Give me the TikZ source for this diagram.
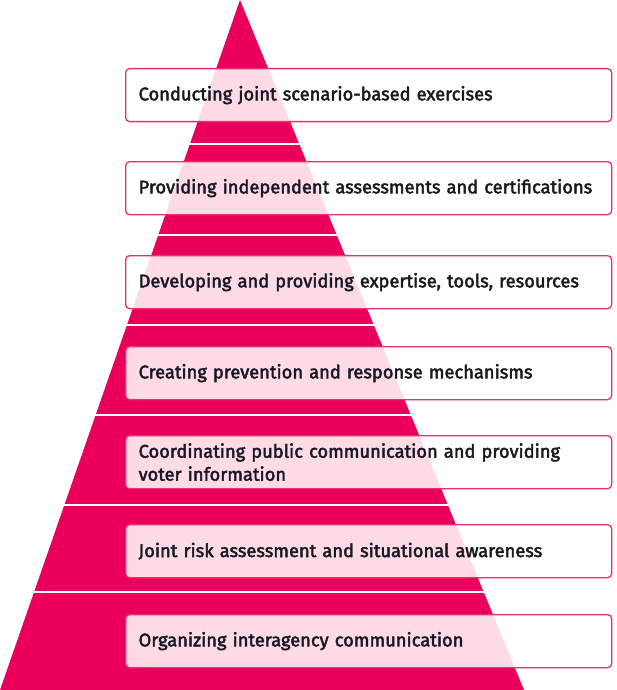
\documentclass[tikz,border=0pt]{standalone}
\usepackage{fontspec}
\setmainfont{Fira Sans}[FakeBold=2.4]
\definecolor{pyramid}{RGB}{234,0,90}
\definecolor{boxline}{RGB}{234,48,106}
\definecolor{ink}{RGB}{26,26,30}

\begin{document}
\begin{tikzpicture}[x=1pt,y=-1pt,
    level/.style={draw=boxline, line width=1.3pt, rounded corners=4pt,
      fill=white, fill opacity=0.86, text opacity=1, text=ink,
      anchor=north west, text width=460pt, inner xsep=13pt, inner ysep=0pt,
      minimum height=53pt, align=left, font=\fontsize{18.3}{23}\selectfont},
    gap/.style={white, line width=2.5pt}]
  \useasboundingbox[fill=white] (0,0) rectangle (617,690);
  % pyramid
  \coordinate (apex) at (240,0);
  \coordinate (left) at (0,690);
  \coordinate (right) at (524,690);
  \fill[pyramid] (apex) -- (right) -- (left) -- cycle;
  \draw[gap] (0,144) -- (600,144);
  \draw[gap] (0,235) -- (600,235);
  \draw[gap] (0,325) -- (600,325);
  \draw[gap] (0,415) -- (600,415);
  \draw[gap] (0,505) -- (600,505);
  \draw[gap] (0,592) -- (600,592);
  % levels
  \node[level] (exercises) at (125,68) {Conducting joint scenario-based exercises};
  \node[level] (certify) at (125,161) {Providing independent assessments and certifications};
  \node[level] (expertise) at (125,255) {Developing and providing expertise, tools, resources};
  \node[level] (mechanisms) at (125,346) {Creating prevention and response mechanisms};
  \node[level] (public) at (125,435) {Coordinating public communication and providing\\voter information};
  \node[level] (risk) at (125,524) {Joint risk assessment and situational awareness};
  \node[level] (interagency) at (125,614) {Organizing interagency communication};
\end{tikzpicture}
\end{document}
